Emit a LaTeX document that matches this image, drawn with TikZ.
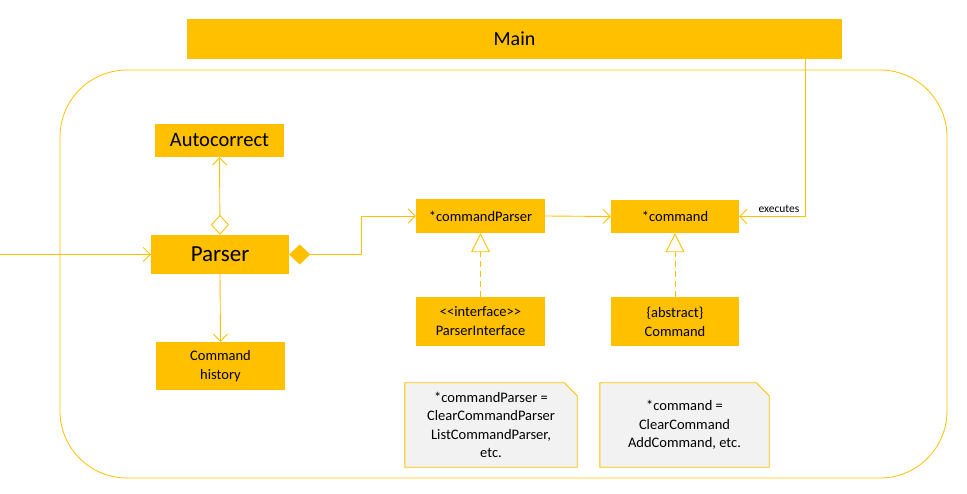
\documentclass[tikz,border=0pt]{standalone}
\usepackage{fontspec}
\setmainfont{Carlito}
\usetikzlibrary{arrows.meta,backgrounds}
\definecolor{gold}{HTML}{FFC000}
\definecolor{notegray}{HTML}{F2F2F2}
\begin{document}
\begin{tikzpicture}[x=1pt,y=-1pt,
  box/.style={fill=gold,inner sep=0pt,align=center,font=\fontsize{14.5}{19}\selectfont},
  link/.style={draw=gold,line width=0.9pt},
  assoc/.style={link,-{Straight Barb[length=7pt,width=14pt]}},
  realize/.style={link,dash pattern=on 6pt off 4pt,-{Triangle[open,length=19pt,width=19pt,fill=white]}},
  note/.style={inner sep=0pt,align=center,font=\fontsize{14.5}{18.5}\selectfont,minimum width=172pt,minimum height=84pt}]
\useasboundingbox (0,0) rectangle (967,494);
% package frame
\draw[draw=gold,line width=0.8pt,rounded corners=67pt] (60,70) rectangle (947,478);
% classes
\node[box,minimum width=655pt,minimum height=40pt,font=\fontsize{20}{22}\selectfont] (main) at (514.5,39) {Main};
\node[box,minimum width=129pt,minimum height=33pt,font=\fontsize{20.5}{24}\selectfont] (autocorrect) at (219.5,140.5) {Autocorrect};
\node[box,minimum width=138pt,minimum height=39pt,font=\fontsize{23}{26}\selectfont] (parser) at (220,254.5) {Parser};
\node[box,minimum width=129pt,minimum height=48pt] (history) at (220.5,366) {Command\\history};
\node[box,minimum width=129pt,minimum height=34pt] (cmdparser) at (480.5,216) {*commandParser};
\node[box,minimum width=128pt,minimum height=33pt] (cmd) at (675,216.5) {*command};
\node[box,minimum width=129pt,minimum height=49pt] (parserif) at (480.5,321.5) {<{}<interface>{}>\\ParserInterface};
\node[box,minimum width=128pt,minimum height=49pt] (abstractcmd) at (675,321.5) {\{abstract\}\\Command};
% notes
\node[note] (note1) at (491,425) {*commandParser =\\ClearCommandParser\\ListCommandParser,\\etc.};
\node[note,minimum width=169pt] (note2) at (684.5,425) {*command =\\ClearCommand\\AddCommand, etc.};
\begin{scope}[on background layer]
\foreach \n in {note1,note2}
  \filldraw[fill=notegray,draw=gold,line width=0.9pt] (\n.south west) -- (\n.north west) -- ([xshift=-13pt]\n.north east) -- ([yshift=-13pt]\n.north east) -- (\n.south east) -- cycle;
\end{scope}
% connectors
\coordinate (input) at (0,254.5);
\coordinate (execx) at (805.5,0);
\draw[assoc] (input) -- (parser.west);
\draw[link,{Diamond[open,length=20pt,width=18pt]}-{Straight Barb[length=7pt,width=14pt]}] (parser.north) -- (autocorrect.south);
\draw[assoc] (parser.south) -- (history.north);
\draw[link,{Diamond[length=21pt,width=20pt,fill=gold]}-{Straight Barb[length=7pt,width=14pt]}] (parser.east) -- ++(72,0) |- (cmdparser.west);
\draw[assoc] (cmdparser.east) -- (cmd.west);
\draw[assoc] (main.south -| execx) |- node[pos=0.7,above,font=\fontsize{11.5}{13}\selectfont] {executes} (cmd.east);
\draw[realize] (parserif.north) -- (cmdparser.south);
\draw[realize] (abstractcmd.north) -- (cmd.south);
\end{tikzpicture}
\end{document}
